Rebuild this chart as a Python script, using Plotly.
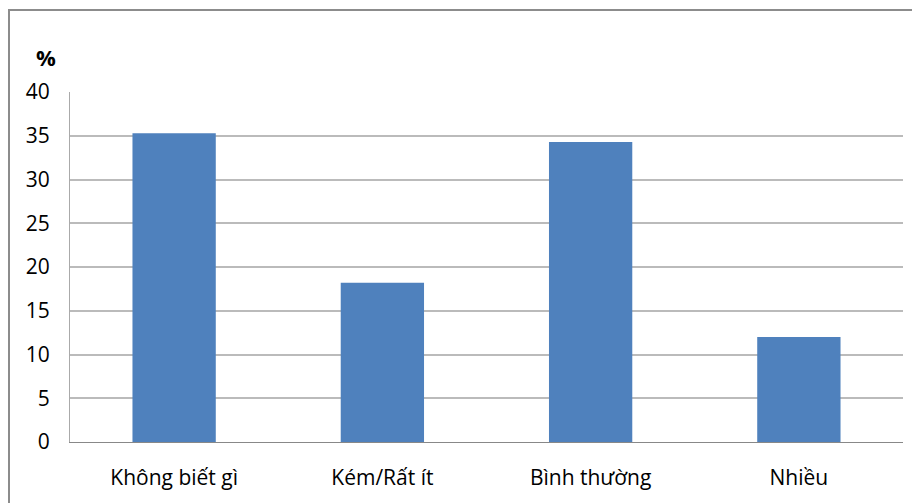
import plotly.graph_objects as go

categories = ["Không biết gì", "Kém/Rất ít", "Bình thường", "Nhiều"]
values = [35.3, 18.2, 34.3, 12.0]
y_ticks = [0, 5, 10, 15, 20, 25, 30, 35, 40]

# page body has an 8px margin, so positions are shifted by -8
OFF = 8
W, H = 920 - OFF, 503 - OFF
L, T = 70 - OFF, 92 - OFF
R = W - (903 - OFF)
B = H - (442 - OFF)
pw, ph = W - L - R, H - T - B

fig = go.Figure(go.Bar(
    x=categories, y=values,
    marker=dict(color="#4F81BD", line=dict(width=0)),
    width=0.40,
))

font = dict(family="Open Sans, Noto Sans, sans-serif", size=21, color="#000000")

plot_bottom = T + ph

def py(fig_y):
    return (plot_bottom - fig_y) / ph

def px(fig_x):
    return (fig_x - L) / pw

fig.update_layout(
    width=W, height=H,
    margin=dict(l=L, r=R, t=T, b=B, pad=0),
    paper_bgcolor="white", plot_bgcolor="white",
    showlegend=False,
    font=font,
    xaxis=dict(
        showgrid=False, showline=True, linecolor="#888888", linewidth=1,
        ticks="", tickfont=font, ticklabelstandoff=17,
    ),
    yaxis=dict(
        range=[0, 40], tickvals=y_ticks, ticktext=[str(v) for v in y_ticks],
        showgrid=True, gridcolor="#BBBBBB", gridwidth=1.5,
        showline=True, linecolor="#AAAAAA", linewidth=1,
        ticks="", tickfont=font, ticklabelstandoff=15,
        zeroline=False,
    ),
    shapes=[dict(
        type="rect", xref="paper", yref="paper",
        x0=px(9 - OFF), x1=px(W + 20),
        y0=py(H + 20), y1=py(10 - OFF),
        line=dict(color="#8C8C8C", width=2), fillcolor="rgba(0,0,0,0)",
        layer="below",
    )],
    annotations=[dict(
        text="<b>%</b>", xref="paper", yref="paper",
        x=px(46 - OFF), y=py(57 - OFF),
        xanchor="center", yanchor="middle", showarrow=False,
        font=dict(family="Open Sans, Noto Sans, sans-serif", size=22, color="#000000"),
    )],
)

fig.write_html("out.html")
